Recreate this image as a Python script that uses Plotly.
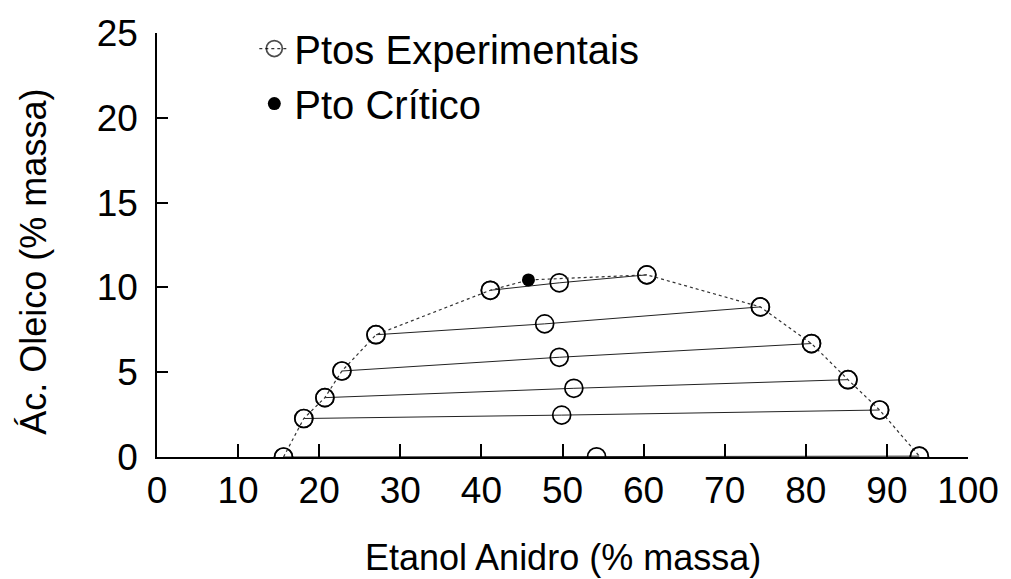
import plotly.graph_objects as go

# Binodal (solubility) curve, ordered along the curve; the critical point sits between x=41.1 and x=60.4
binodal_x = [15.6, 18.1, 20.7, 22.8, 27.0, 41.1, 45.8, 60.4, 74.4, 80.7, 85.2, 89.1, 94.0]
binodal_y = [0.0, 2.27, 3.50, 5.07, 7.21, 9.83, 10.44, 10.74, 8.85, 6.69, 4.56, 2.77, 0.05]
critical_index = 6

# Tie lines: [left end, overall mixture, right end]
tie_x = [
    [41.1, 49.6, 60.4],
    [27.0, 47.8, 74.4],
    [22.8, 49.6, 80.7],
    [20.7, 51.4, 85.2],
    [18.1, 49.9, 89.1],
    [15.6, 54.2, 94.0],
]
tie_y = [
    [9.83, 10.27, 10.74],
    [7.21, 7.85, 8.85],
    [5.07, 5.88, 6.69],
    [3.50, 4.05, 4.56],
    [2.27, 2.47, 2.77],
    [0.0, 0.01, 0.05],
]

# Critical point
crit_x = [binodal_x[critical_index]]
crit_y = [binodal_y[critical_index]]

x_ticks = [0, 10, 20, 30, 40, 50, 60, 70, 80, 90, 100]
y_ticks = [0, 5, 10, 15, 20, 25]

FONT = "Liberation Sans, Arial, sans-serif"

fig = go.Figure()

for tx, ty in zip(tie_x, tie_y):
    fig.add_trace(go.Scatter(
        x=tx, y=ty, mode="lines+markers", showlegend=False,
        line=dict(color="#222222", width=1),
        marker=dict(symbol="circle-open", size=18, color="black", line=dict(width=1.7)),
        hoverinfo="skip",
    ))

sizes = [18] * len(binodal_x)
sizes[critical_index] = 0
fig.add_trace(go.Scatter(
    x=binodal_x, y=binodal_y, mode="lines+markers", name="Ptos Experimentais",
    line=dict(color="#333333", width=1.2, dash="dot"),
    marker=dict(symbol="circle-open", size=sizes, color="black", line=dict(width=1.7)),
))

fig.add_trace(go.Scatter(
    x=crit_x, y=crit_y, mode="markers", name="Pto Crítico",
    marker=dict(symbol="circle", size=13, color="black"),
))

fig.update_layout(
    width=1011, height=579,
    margin=dict(l=157, r=43, t=33, b=122),
    paper_bgcolor="white", plot_bgcolor="white",
    font=dict(family=FONT, color="black"),
    showlegend=True,
    legend=dict(
        x=0.120, y=1.040, xanchor="left", yanchor="top",
        font=dict(family=FONT, size=40, color="black"),
        bgcolor="rgba(0,0,0,0)", borderwidth=0,
        tracegroupgap=0,
    ),
    xaxis=dict(
        range=[0, 100], tickvals=x_ticks, ticktext=[str(v) for v in x_ticks],
        showgrid=False, zeroline=False, showline=True, linecolor="black", linewidth=1.6,
        ticks="inside", ticklen=13, tickwidth=1.6, tickcolor="black",
        tickfont=dict(family=FONT, size=37, color="black"),
        mirror=False,
    ),
    yaxis=dict(
        range=[0, 25], tickvals=y_ticks, ticktext=[str(v) for v in y_ticks],
        showgrid=False, zeroline=False, showline=True, linecolor="black", linewidth=1.6,
        ticks="inside", ticklen=11, tickwidth=1.6, tickcolor="black",
        tickfont=dict(family=FONT, size=37, color="black"),
        ticklabelstandoff=10,
        mirror=False,
    ),
    annotations=[
        dict(text="Etanol Anidro (% massa)", xref="paper", yref="paper",
             x=0.5, y=-0.236, xanchor="center", yanchor="middle", showarrow=False,
             font=dict(family=FONT, size=36, color="black")),
        dict(text="Ác. Oleico (% massa)", xref="paper", yref="paper",
             x=-0.152, y=0.46, xanchor="center", yanchor="middle", showarrow=False,
             textangle=-90, font=dict(family=FONT, size=36, color="black")),
    ],
)

fig.write_html("out.html")
